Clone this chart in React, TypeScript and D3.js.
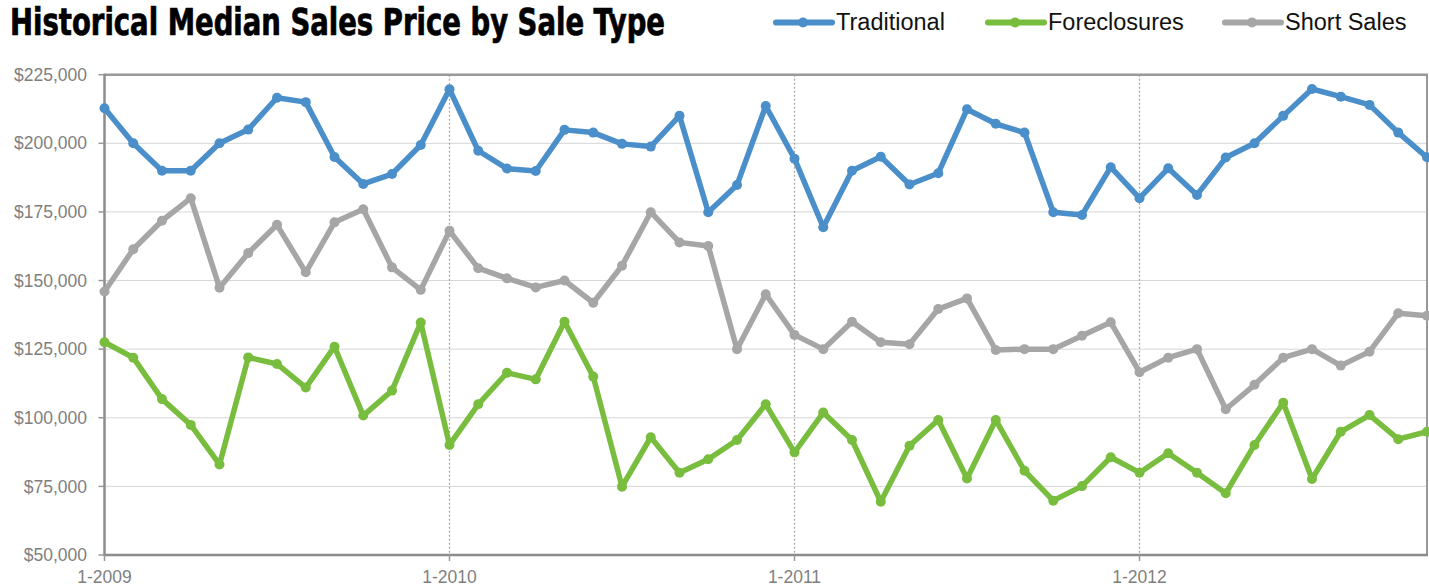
import React from 'react';
import * as d3 from 'd3';

// monthly medians, 1-2009 .. 11-2012
const traditional = [
  212800, 200000, 190000, 190000, 200000, 205000, 216600, 215000, 195000, 185200, 188800, 199400,
  219700, 197300, 190800, 189900, 204900, 203900, 199800, 198800, 210000, 174900, 184800, 213600,
  194400, 169400, 190000, 195100, 185000, 189100, 212400, 207100, 203900, 174900, 173900, 191300,
  180000, 190900, 181200, 194800, 200000, 210000, 219800, 217000, 214000, 203900, 194900
];
const foreclosures = [
  127500, 121900, 106800, 97400, 83000, 122000, 119600, 111000, 125900, 100800, 109900, 134700,
  90100, 104900, 116400, 114000, 135000, 115000, 74900, 92900, 80000, 84900, 91900, 104900,
  87400, 101900, 91900, 69400, 89800, 99200, 77900, 99200, 80700, 69800, 75100, 85600,
  80000, 87100, 80000, 72500, 90100, 105500, 77700, 94900, 101000, 92200, 94900
];
const shortSales = [
  146000, 161400, 171800, 180000, 147400, 160000, 170300, 153000, 171200, 176000, 154800, 146600,
  168100, 154500, 150800, 147500, 150000, 141900, 155400, 174900, 163900, 162600, 125000, 145000,
  130200, 125000, 135000, 127500, 126800, 139600, 143500, 124700, 125000, 125000, 129900, 134800,
  116600, 121900, 125000, 103100, 112000, 121900, 125000, 119000, 124100, 138100, 137200
];

const yTicks = [50000, 75000, 100000, 125000, 150000, 175000, 200000, 225000];
const xTickIndex = [0, 12, 24, 36];
const xTickLabels = ['1-2009', '1-2010', '1-2011', '1-2012'];

const seriesNames = ['Traditional', 'Foreclosures', 'Short Sales'];
const seriesColors = ['#4a8fc9', '#78bd3e', '#a6a6a6'];
const seriesData = [traditional, foreclosures, shortSales];

const W = 1429;
const H = 587;
const FONT = "'Liberation Sans', Arial, Helvetica, sans-serif";

export default function App() {
  const left = 104.5;
  const right = 1427;
  const top = 74.7;
  const bottom = 555;

  const x = d3.scaleLinear().domain([0, traditional.length - 1]).range([left, right]);
  const y = d3.scaleLinear().domain([50000, 225000]).range([bottom, top]);
  const fmt = d3.format('$,');

  const line = d3.line<number>()
    .x((_, i) => x(i))
    .y(d => y(d));

  // legend placement
  const legendX = [776, 988, 1225];
  const legendY = 22.5;

  return (
    <svg
      width={W}
      height={H}
      style={{ position: 'absolute', left: 0, top: 0, display: 'block', background: '#fff' }}
    >
      {/* title */}
      <text
        x={10}
        y={35}
        fontFamily="'Liberation Sans Narrow', 'DejaVu Sans Condensed', sans-serif"
        fontWeight="bold"
        fontSize={37}
        textLength={655}
        lengthAdjust="spacingAndGlyphs"
        fill="#000"
        stroke="#000"
        strokeWidth={0.7}
      >
        Historical Median Sales Price by Sale Type
      </text>

      {/* legend */}
      {seriesNames.map((name, i) => (
        <g key={name}>
          <line
            x1={legendX[i]}
            x2={legendX[i] + 56}
            y1={legendY}
            y2={legendY}
            stroke={seriesColors[i]}
            strokeWidth={6}
            strokeLinecap="round"
          />
          <circle cx={legendX[i] + 27} cy={legendY} r={5} fill={seriesColors[i]} />
          <text
            x={legendX[i] + 60}
            y={29.5}
            fontFamily={FONT}
            fontSize={23.5}
            fill="#111"
          >
            {name}
          </text>
        </g>
      ))}

      {/* horizontal grid */}
      {yTicks.map(t => (
        <line key={'g' + t} x1={left} x2={right} y1={y(t)} y2={y(t)} stroke="#d6d6d6" strokeWidth={1} />
      ))}

      {/* year grid (dotted) */}
      {xTickIndex.slice(1).map(i => (
        <line
          key={'v' + i}
          x1={x(i)}
          x2={x(i)}
          y1={top}
          y2={bottom}
          stroke="#a8a8a8"
          strokeWidth={1.3}
          strokeDasharray="2,2"
        />
      ))}

      {/* frame */}
      <line x1={left} x2={right + 1} y1={top} y2={top} stroke="#999" strokeWidth={2.5} />
      <line x1={right} x2={right} y1={top} y2={bottom} stroke="#999" strokeWidth={2} />
      <line x1={left} x2={left} y1={top - 1} y2={bottom + 1} stroke="#8c8c8c" strokeWidth={2.5} />
      <line x1={left - 1} x2={right + 1} y1={bottom} y2={bottom} stroke="#8c8c8c" strokeWidth={2.5} />

      {/* y axis ticks + labels */}
      {yTicks.map(t => (
        <g key={'y' + t}>
          <line x1={left - 6} x2={left} y1={y(t)} y2={y(t)} stroke="#999" strokeWidth={1.5} />
          <text
            x={87}
            y={y(t)}
            dy="0.35em"
            textAnchor="end"
            fontFamily={FONT}
            fontSize={17.5}
            fill="#7f7f7f"
          >
            {fmt(t)}
          </text>
        </g>
      ))}

      {/* x axis ticks + labels */}
      {xTickIndex.map((i, k) => (
        <g key={'x' + i}>
          <line x1={x(i)} x2={x(i)} y1={bottom} y2={bottom + 6} stroke="#999" strokeWidth={1.5} />
          <text
            x={x(i)}
            y={582.5}
            textAnchor="middle"
            fontFamily={FONT}
            fontSize={17.5}
            fill="#7f7f7f"
          >
            {xTickLabels[k]}
          </text>
        </g>
      ))}

      {/* series */}
      {seriesData.map((data, s) => (
        <g key={seriesNames[s]}>
          <path
            d={line(data) || ''}
            fill="none"
            stroke={seriesColors[s]}
            strokeWidth={5.5}
            strokeLinejoin="round"
            strokeLinecap="round"
          />
          {data.map((v, i) => (
            <circle key={i} cx={x(i)} cy={y(v)} r={5} fill={seriesColors[s]} />
          ))}
        </g>
      ))}
    </svg>
  );
}
